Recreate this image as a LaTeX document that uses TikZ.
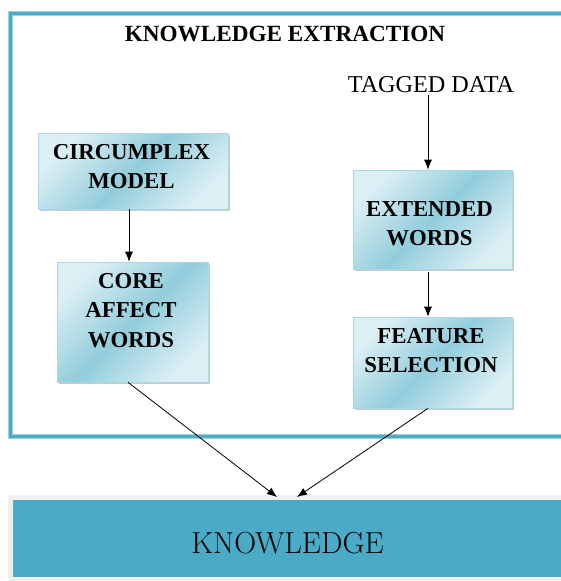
\documentclass[tikz,border=0pt]{standalone}
\usepackage{fontspec}
\newfontfamily\tnr{Liberation Serif}
\usetikzlibrary{arrows.meta,shadows}
\definecolor{frameblue}{HTML}{4BACC6}
\definecolor{framelight}{HTML}{9FD2E0}
\definecolor{boxdark}{HTML}{92CDDC}
\definecolor{boxlight}{HTML}{DCEFF4}
\definecolor{boxedge}{HTML}{A8D8E5}
\definecolor{knowblue}{HTML}{4BABC6}
\definecolor{greyedge}{HTML}{F0F0F0}
\tikzset{
 box/.style={draw=boxedge, line width=0.6pt, top color=boxlight, bottom color=boxlight, middle color=boxdark, shading angle=45,
   drop shadow={shadow xshift=1.5pt, shadow yshift=-1.5pt, opacity=0.35, fill=black!60}, inner sep=0pt},
 boxtext/.style={font=\tnr\bfseries\fontsize{22.8}{29.5}\selectfont, align=center, inner sep=0pt},
 arr/.style={-{Latex[length=10pt,width=8pt]}, line width=0.8pt, black},
}
\begin{document}
\begin{tikzpicture}[x=1pt,y=-1pt]
\clip (0,0) rectangle (561,581);
\fill[white] (0,0) rectangle (561,581);
% outer frame
\draw[framelight, line width=5pt] (10.7,13.3) rectangle (600,436.5);
\draw[frameblue, line width=2.6pt] (10.7,13.3) rectangle (600,436.5);
\node[font=\tnr\bfseries\fontsize{23.2}{26}\selectfont, anchor=base, inner sep=0pt] (title) at (285,41) {KNOWLEDGE EXTRACTION};
\node[font=\tnr\fontsize{24.2}{28}\selectfont, anchor=base, inner sep=0pt] (tagged) at (431,92) {TAGGED DATA};
% boxes
\node[box, minimum width=190pt, minimum height=76pt] (circ) at (133,171) {};
\node[boxtext] (circt) at (131.5,166.5) {CIRCUMPLEX\\MODEL};
\node[box, minimum width=151pt, minimum height=120pt] (core) at (132.5,322) {};
\node[boxtext] (coret) at (131,310.5) {CORE\\AFFECT\\WORDS};
\node[box, minimum width=159pt, minimum height=99pt] (ext) at (432.5,219.5) {};
\node[boxtext] (extt) at (429.5,223.5) {EXTENDED\\WORDS};
\node[box, minimum width=159pt, minimum height=91pt] (feat) at (432.5,362.5) {};
\node[boxtext] (featt) at (431,350.5) {FEATURE\\SELECTION};
% knowledge bar
\fill[greyedge] (8,495) rectangle (600,580.5);
\node[fill=knowblue, minimum width=549.6pt, minimum height=77pt, inner sep=0pt, anchor=north west] (know) at (12.7,500) {};
\node[font=\fontsize{30.4}{36}\selectfont, inner sep=0pt] (knowt) at (287.5,543) {KNOWLEDGE};
% arrows
\draw[arr] ([xshift=-4pt]circ.south) -- ([xshift=-3.5pt]core.north);
\draw[arr] ([xshift=-3pt,yshift=-3pt]tagged.south) -- ([xshift=-4.5pt]ext.north);
\draw[arr] ([xshift=-4.5pt,yshift=-3pt]ext.south) -- ([xshift=-4.5pt]feat.north);
\draw[arr] ([xshift=-4.5pt]core.south) -- ([xshift=264.3pt,yshift=3pt]know.north west);
\draw[arr] ([xshift=-4.5pt]feat.south) -- ([xshift=284.3pt,yshift=3pt]know.north west);
\end{tikzpicture}
\end{document}
